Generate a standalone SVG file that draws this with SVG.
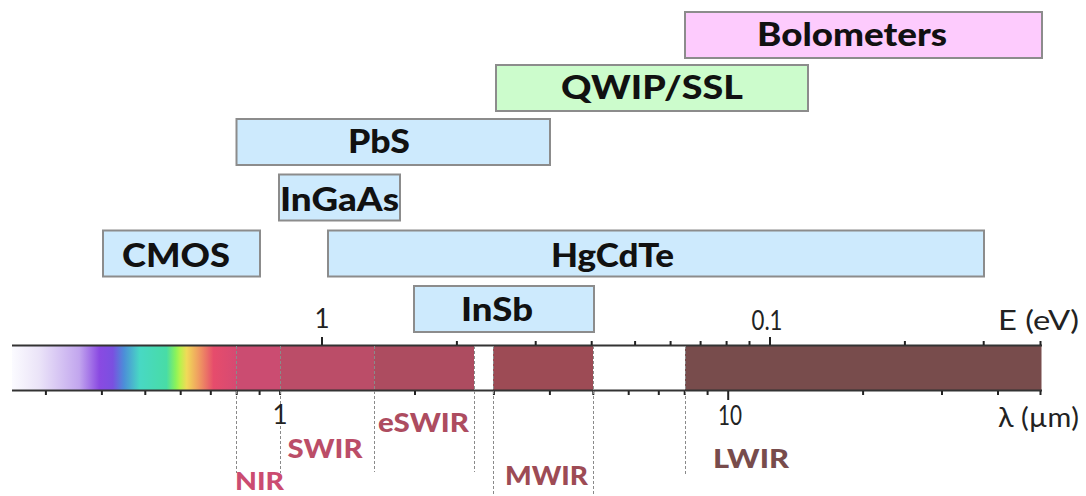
<svg xmlns="http://www.w3.org/2000/svg" width="1086" height="496" viewBox="0 0 1086 496">
<defs>
<linearGradient id="vis" x1="12" y1="0" x2="236" y2="0" gradientUnits="userSpaceOnUse">
<stop offset="0" stop-color="#fbfbff"/>
<stop offset="0.12" stop-color="#ebe4f8"/>
<stop offset="0.3" stop-color="#c2a6ee"/>
<stop offset="0.39" stop-color="#8a4ae2"/>
<stop offset="0.45" stop-color="#7a50e0"/>
<stop offset="0.5" stop-color="#4c8ed8"/>
<stop offset="0.57" stop-color="#48d8c4"/>
<stop offset="0.69" stop-color="#48dca6"/>
<stop offset="0.73" stop-color="#88f25c"/>
<stop offset="0.75" stop-color="#b8f24c"/>
<stop offset="0.78" stop-color="#f0da58"/>
<stop offset="0.83" stop-color="#f0a060"/>
<stop offset="0.9" stop-color="#e64c6c"/>
<stop offset="1" stop-color="#d64a72"/>
</linearGradient>
<style>
.box{stroke:#8c8c8c;stroke-width:2}
.blue{fill:#cdeafd}
.green{fill:#ccfccc}
.pink{fill:#fdcbfd}
.lbl{font-family:Lato,"Liberation Sans",sans-serif;font-weight:900;font-size:33px;fill:#111;text-anchor:middle}
.band{font-family:Lato,"Liberation Sans",sans-serif;font-weight:900;font-size:26px;text-anchor:middle}
.ax{font-family:Lato,"Liberation Sans",sans-serif;font-size:26px;fill:#222}
.axis{stroke:#333;stroke-width:2;fill:none}
.tick{stroke:#222;stroke-width:2}
.dash{stroke:#8a8a8a;stroke-width:1;stroke-dasharray:3 2;fill:none}
</style>
</defs>
<rect width="1086" height="496" fill="#ffffff"/>

<g id="spectrum">
<rect x="12" y="346" width="224" height="44" fill="url(#vis)"/>
<rect x="236" y="346" width="44" height="44" fill="#cb4c71"/>
<rect x="280" y="346" width="94" height="44" fill="#bb4d68"/>
<rect x="374" y="346" width="100" height="44" fill="#ad4c60"/>
<rect x="493" y="346" width="100" height="44" fill="#9d4b55"/>
<rect x="685" y="346" width="356.5" height="44" fill="#784c4c"/>
<line class="axis" x1="12" y1="345.5" x2="1042" y2="345.5"/>
<line class="axis" x1="12" y1="390.5" x2="1042" y2="390.5"/>
</g>

<g id="ticks">
<line class="tick" x1="322" y1="337" x2="322" y2="345"/>
<line class="tick" x1="456.9" y1="341" x2="456.9" y2="345"/>
<line class="tick" x1="535.7" y1="341" x2="535.7" y2="345"/>
<line class="tick" x1="591.7" y1="341" x2="591.7" y2="345"/>
<line class="tick" x1="635.1" y1="341" x2="635.1" y2="345"/>
<line class="tick" x1="670.6" y1="341" x2="670.6" y2="345"/>
<line class="tick" x1="700.6" y1="341" x2="700.6" y2="345"/>
<line class="tick" x1="726.6" y1="341" x2="726.6" y2="345"/>
<line class="tick" x1="749.5" y1="341" x2="749.5" y2="345"/>
<line class="tick" x1="770" y1="337" x2="770" y2="345"/>
<line class="tick" x1="904.9" y1="341" x2="904.9" y2="345"/>
<line class="tick" x1="983.7" y1="341" x2="983.7" y2="345"/>
<line class="tick" x1="1040.5" y1="341" x2="1040.5" y2="345"/>

<line class="tick" x1="45.9" y1="391" x2="45.9" y2="395"/>
<line class="tick" x1="101.9" y1="391" x2="101.9" y2="395"/>
<line class="tick" x1="145.3" y1="391" x2="145.3" y2="395"/>
<line class="tick" x1="180.7" y1="391" x2="180.7" y2="395"/>
<line class="tick" x1="210.8" y1="391" x2="210.8" y2="395"/>
<line class="tick" x1="236.7" y1="391" x2="236.7" y2="395"/>
<line class="tick" x1="259.6" y1="391" x2="259.6" y2="395"/>
<line class="tick" x1="280.1" y1="391" x2="280.1" y2="395"/>
<line class="tick" x1="415" y1="391" x2="415" y2="395"/>
<line class="tick" x1="493.9" y1="391" x2="493.9" y2="395"/>
<line class="tick" x1="549.9" y1="391" x2="549.9" y2="395"/>
<line class="tick" x1="593.3" y1="391" x2="593.3" y2="395"/>
<line class="tick" x1="628.7" y1="391" x2="628.7" y2="395"/>
<line class="tick" x1="658.8" y1="391" x2="658.8" y2="395"/>
<line class="tick" x1="684.7" y1="391" x2="684.7" y2="395"/>
<line class="tick" x1="707.6" y1="391" x2="707.6" y2="395"/>
<line class="tick" x1="728.2" y1="391" x2="728.2" y2="400"/>
<line class="tick" x1="863.1" y1="391" x2="863.1" y2="395"/>
<line class="tick" x1="942" y1="391" x2="942" y2="395"/>
<line class="tick" x1="998" y1="391" x2="998" y2="395"/>
<line class="tick" x1="1040.5" y1="391" x2="1040.5" y2="395"/>
</g>

<g id="dividers">
<line class="dash" x1="236.5" y1="346" x2="236.5" y2="473"/>
<line class="dash" x1="280.5" y1="346" x2="280.5" y2="473"/>
<line class="dash" x1="374.5" y1="346" x2="374.5" y2="472"/>
<line class="dash" x1="474.5" y1="346" x2="474.5" y2="472"/>
<line class="dash" x1="493.5" y1="346" x2="493.5" y2="496"/>
<line class="dash" x1="593.5" y1="346" x2="593.5" y2="496"/>
<line class="dash" x1="685.5" y1="346" x2="685.5" y2="474"/>
</g>

<g id="axis-labels">
<text class="ax" x="322" y="328" text-anchor="middle">1</text>
<text class="ax" x="767" y="330" text-anchor="middle" textLength="31" lengthAdjust="spacingAndGlyphs">0.1</text>
<text class="ax" x="998" y="330" textLength="81" lengthAdjust="spacingAndGlyphs">E (eV)</text>
<text class="ax" x="280" y="424" text-anchor="middle" fill="#444">1</text>
<text class="ax" x="730" y="425" text-anchor="middle" textLength="24" lengthAdjust="spacingAndGlyphs">10</text>
<text class="ax" x="998" y="427" textLength="81" lengthAdjust="spacingAndGlyphs">λ (µm)</text>
</g>

<g id="bands">
<text class="band" x="259.5" y="490" fill="#cb4c71" textLength="49" lengthAdjust="spacingAndGlyphs" style="font-size:24px">NIR</text>
<text class="band" x="325" y="458" fill="#bb4d68" textLength="75" lengthAdjust="spacingAndGlyphs">SWIR</text>
<text class="band" x="423.5" y="432" fill="#ad4c60" textLength="91" lengthAdjust="spacingAndGlyphs">eSWIR</text>
<text class="band" x="546.5" y="485" fill="#9d4b55" textLength="83" lengthAdjust="spacingAndGlyphs">MWIR</text>
<text class="band" x="751" y="468" fill="#784c4c" textLength="76" lengthAdjust="spacingAndGlyphs">LWIR</text>
</g>

<g id="bolometers">
<rect class="box pink" x="685" y="12" width="357" height="46"/>
<text class="lbl" x="852" y="46" textLength="190" lengthAdjust="spacingAndGlyphs">Bolometers</text>
</g>
<g id="qwip">
<rect class="box green" x="496" y="65" width="312" height="46"/>
<text class="lbl" x="652" y="99" textLength="182" lengthAdjust="spacingAndGlyphs">QWIP/SSL</text>
</g>
<g id="pbs">
<rect class="box blue" x="236.5" y="119" width="313.5" height="46"/>
<text class="lbl" x="379" y="153" textLength="62" lengthAdjust="spacingAndGlyphs">PbS</text>
</g>
<g id="ingaas">
<rect class="box blue" x="279" y="174.5" width="121" height="46"/>
<text class="lbl" x="339.5" y="211" textLength="119" lengthAdjust="spacingAndGlyphs">InGaAs</text>
</g>
<g id="cmos">
<rect class="box blue" x="103" y="230.5" width="157" height="46"/>
<text class="lbl" x="176" y="267" textLength="108" lengthAdjust="spacingAndGlyphs">CMOS</text>
</g>
<g id="hgcdte">
<rect class="box blue" x="328" y="230.5" width="656" height="46"/>
<text class="lbl" x="612.5" y="267" textLength="123" lengthAdjust="spacingAndGlyphs">HgCdTe</text>
</g>
<g id="insb">
<rect class="box blue" x="414" y="286" width="180" height="46"/>
<text class="lbl" x="497" y="321" textLength="72" lengthAdjust="spacingAndGlyphs">InSb</text>
</g>
</svg>
